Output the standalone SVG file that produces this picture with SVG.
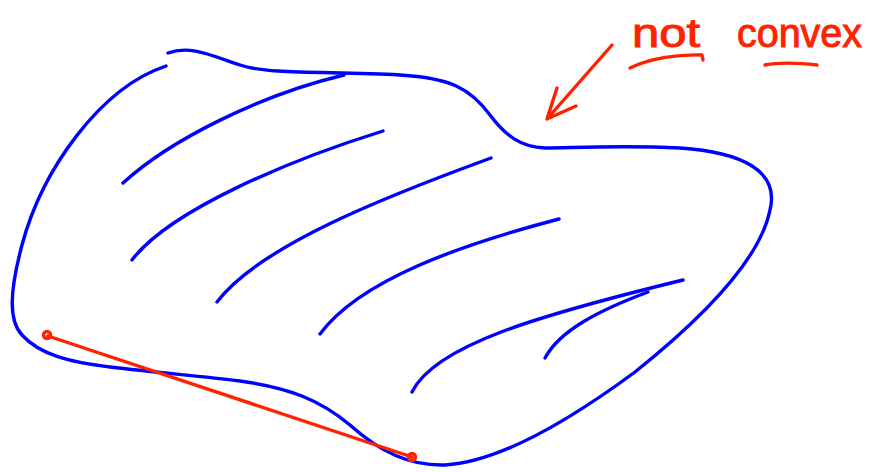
<svg xmlns="http://www.w3.org/2000/svg" width="877" height="472" viewBox="0 0 877 472">
<style>
.b{fill:none;stroke:#0000ff;stroke-width:3.4;stroke-linecap:round;stroke-linejoin:round}
.r{fill:none;stroke:#ff2200;stroke-width:3.4;stroke-linecap:round;stroke-linejoin:round}
.t{fill:#ff2200;stroke:#ff2200;stroke-width:1;font-family:"Liberation Sans",Arial,sans-serif;font-size:40px}
</style>
<rect width="877" height="472" fill="#ffffff"/>
<g id="region">
<path class="b" d="M166,66 C100,88 42,170 22,245 C10,290 8,320 22,335 C40,355 70,362 110,367 C160,373 200,376 240,381 C290,388 320,400 350,425 C380,452 410,466 445,465 C500,462 570,420 635,372 C700,320 760,260 770,210 C780,170 740,152 680,148 C620,145 570,148 545,148 C520,147 505,135 490,115 C470,88 450,78 400,75 C330,71 270,75 240,65 C210,55 190,45 168,53"/>
</g>
<g id="hatching">
<path class="b" d="M123,183 C170,140 260,95 344,75"/>
<path class="b" d="M132,260 C170,210 290,160 383,131"/>
<path class="b" d="M217,302 C260,245 390,195 491,158"/>
<path class="b" d="M320,334 C360,280 460,245 559,219"/>
<path class="b" d="M412,392 C435,345 540,315 683,280"/>
<path class="b" d="M545,358 C560,330 600,310 648,292"/>
</g>
<g id="chord">
<line class="r" x1="48" y1="336" x2="412" y2="457"/>
<circle class="r" cx="47" cy="335" r="3.5"/>
<circle class="r" cx="412" cy="457" r="3.5"/>
</g>
<g id="label">
<text class="t" x="632" y="47" textLength="68" lengthAdjust="spacingAndGlyphs">not</text>
<text class="t" x="737" y="47" textLength="125" lengthAdjust="spacingAndGlyphs">convex</text>
<path class="r" d="M630,68 C650,58 680,54 702,55 L703,60"/>
<path class="r" d="M765,65 C780,62 800,63 817,65"/>
</g>
<g id="connectors">
<path class="r" d="M612,45 L547,119 M547,119 L557,88 M547,119 L576,106"/>
</g>
</svg>
